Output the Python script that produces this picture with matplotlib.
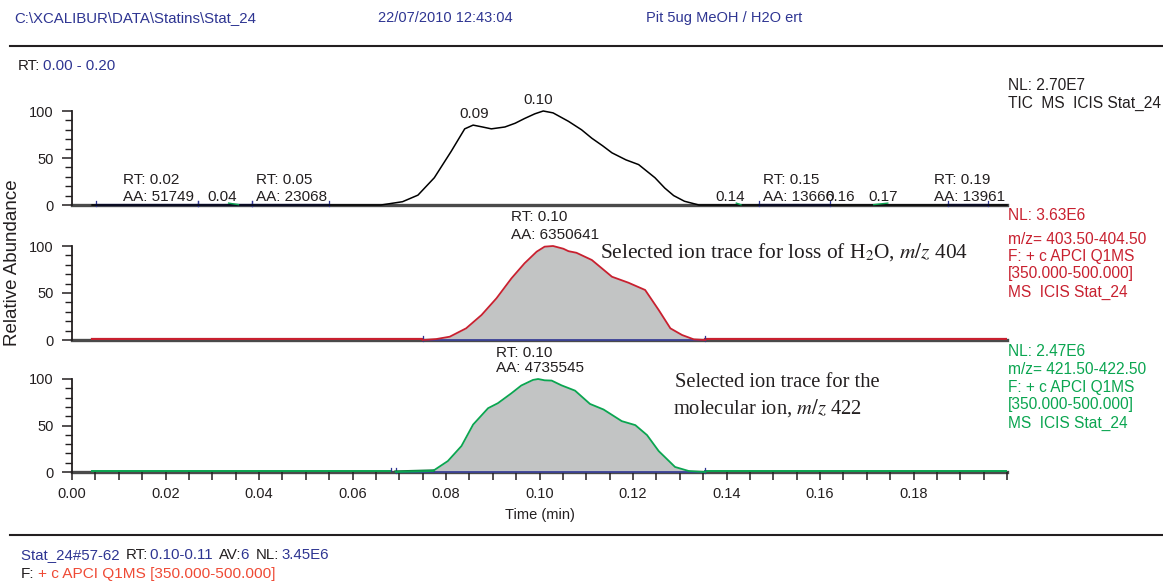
import matplotlib
matplotlib.use("Agg")
import matplotlib.pyplot as plt
from matplotlib.ticker import MultipleLocator

W, H = 1163, 581
SANS = "Liberation Sans"
SERIF = "Liberation Serif"
plt.rcParams["font.family"] = SANS
plt.rcParams["mathtext.fontset"] = "stix"

BLUE = "#2e3592"
DARK = "#231f20"
RED = "#c8202f"
GREEN = "#0aa550"
ORANGE = "#ef4a35"
FILL = "#c2c4c4"
AXIS = "#4a4a4a"

# ---- chromatogram data (time in min, relative abundance in %) ----
tic_time = [0.0043, 0.0661, 0.0707, 0.0740, 0.0775, 0.0811, 0.0840, 0.0858, 0.0878,
            0.0897, 0.0926, 0.0948, 0.0968, 0.0990, 0.1008, 0.1029, 0.1062, 0.1090,
            0.1112, 0.1135, 0.1155, 0.1185, 0.1212, 0.1247, 0.1268, 0.1287, 0.1310,
            0.1341, 0.2000]
tic_rel = [0, 0, 3.5, 10.5, 29, 57, 81, 85, 83,
           81, 83, 87, 92, 97, 100, 98, 89, 80,
           71, 63, 55.5, 48, 43, 29, 18, 10, 4,
           0, 0]

sim404_time = [0.0750, 0.0779, 0.0808, 0.0843, 0.0876, 0.0908, 0.0940, 0.0968, 0.0994,
               0.1011, 0.1029, 0.1051, 0.1062, 0.1079, 0.1112, 0.1155, 0.1190, 0.1226,
               0.1255, 0.1280, 0.1305, 0.1330, 0.1355]
sim404_rel = [0, 1, 3.5, 12.4, 26.6, 44.4, 65.6, 81.6, 94,
              99.3, 100, 97.1, 94.5, 92.8, 85.1, 67.3, 61, 53.2,
              31.9, 12.4, 5.3, 0.7, 0]

sim422_time = [0.0693, 0.0772, 0.0804, 0.0833, 0.0858, 0.0890, 0.0911, 0.0940, 0.0961,
               0.0986, 0.0997, 0.1011, 0.1026, 0.1047, 0.1076, 0.1108, 0.1137, 0.1176,
               0.1205, 0.1230, 0.1255, 0.1290, 0.1319, 0.1355]
sim422_rel = [0, 1.1, 11.8, 27.9, 51, 68.6, 74, 84.7, 93,
              99, 100, 98.6, 98.3, 93.2, 87.5, 73.2, 67.2, 54.7,
              50.4, 39.7, 22.5, 5.4, 1.1, 0]

scan_start, scan_end = 0.0043, 0.2000

# integration baselines (start, end) in minutes
tic_baselines = [(0.0052, 0.0270), (0.0270, 0.0384), (0.0384, 0.0549),
                 (0.1470, 0.1622), (0.1873, 0.1959)]
sim404_baseline = (0.0750, 0.1355)
sim422_baseline = (0.0693, 0.1355)

# small detected peaks on the TIC baseline
tic_minor_peaks = [(0.0335, 0.0356, 2.0, 0.4), (0.1421, 0.1431, 2.0, 0.2),
                   (0.1715, 0.1745, 0.4, 2.0)]

# peak annotations: (time, rel, text, horizontal alignment)
tic_labels = [(0.0861, 96.8, "0.09", "center"), (0.0998, 111.7, "0.10", "center"),
              (0.0109, 26.6, "RT: 0.02", "left"), (0.0109, 8.5, "AA: 51749", "left"),
              (0.0290, 8.5, "0.04", "left"),
              (0.0393, 26.6, "RT: 0.05", "left"), (0.0393, 8.5, "AA: 23068", "left"),
              (0.1376, 8.5, "0.14", "left"),
              (0.1479, 26.6, "RT: 0.15", "left"), (0.1479, 8.5, "AA: 13666", "left"),
              (0.1612, 8.5, "0.16", "left"), (0.1704, 8.5, "0.17", "left"),
              (0.1843, 26.6, "RT: 0.19", "left"), (0.1843, 8.5, "AA: 13961", "left")]
sim404_labels = [(0.0940, 130.9, "RT: 0.10"), (0.0940, 111.7, "AA: 6350641")]
sim422_labels = [(0.0908, 128.0, "RT: 0.10"), (0.0908, 111.8, "AA: 4735545")]

tic_info = ["NL: 2.70E7", "TIC  MS  ICIS Stat_24"]
sim404_info = ["NL: 3.63E6", "m/z= 403.50-404.50", "F: + c APCI Q1MS",
               "[350.000-500.000]", "MS  ICIS Stat_24"]
sim422_info = ["NL: 2.47E6", "m/z= 421.50-422.50", "F: + c APCI Q1MS",
               "[350.000-500.000]", "MS  ICIS Stat_24"]

x_ticks = [0.00, 0.02, 0.04, 0.06, 0.08, 0.10, 0.12, 0.14, 0.16, 0.18]
y_ticks = [0, 50, 100]

fig = plt.figure(figsize=(W / 100, H / 100), dpi=100)


def fx(px):
    return px / W


def fy(py):
    return 1 - py / H


def panel(top_px, bottom_px):
    left, right = 72, 1007
    ax = fig.add_axes([fx(left), fy(bottom_px), (right - left) / W, (bottom_px - top_px) / H])
    ax.set_xlim(0, 0.2)
    ax.set_ylim(0, 100)
    ax.patch.set_alpha(0)
    for s in ("top", "right"):
        ax.spines[s].set_visible(False)
    ax.spines["left"].set_color(DARK)
    ax.spines["left"].set_linewidth(1.3)
    ax.spines["bottom"].set_color(AXIS)
    ax.spines["bottom"].set_linewidth(2.4)
    ax.spines["bottom"].set_zorder(1)
    ax.set_yticks(y_ticks)
    ax.yaxis.set_minor_locator(MultipleLocator(10))
    ax.tick_params(axis="y", which="major", length=7, width=1.1, color=DARK,
                   labelsize=10.5, labelcolor=DARK, pad=6)
    ax.tick_params(axis="y", which="minor", length=5, width=1.0, color=DARK)
    ax.xaxis.set_minor_locator(MultipleLocator(0.005))
    ax.set_xticks(x_ticks)
    ax.xaxis.set_major_formatter(plt.FuncFormatter(lambda v, p: f"{v:.2f}"))
    ax.tick_params(axis="x", which="both", length=6, width=1.1, color=DARK,
                   labelsize=10.5, labelcolor=DARK, pad=5)
    return ax


def baseline_marks(ax, t0, t1, lw=1.2):
    ax.plot([t0, t1], [0.3, 0.3], color=BLUE, lw=lw, zorder=3, clip_on=False)
    for t in (t0, t1):
        ax.plot([t, t], [-1.5, 4.5], color=BLUE, lw=0.9, zorder=3, clip_on=False)


# ---- TIC ----
ax1 = panel(111, 205)
ax1.tick_params(axis="x", which="both", bottom=False, labelbottom=False)
ax1.plot(tic_time, tic_rel, color="black", lw=1.1, zorder=4, clip_on=False)
for t0, t1 in tic_baselines:
    baseline_marks(ax1, t0, t1, lw=1.6)
for t0, t1, y0, y1 in tic_minor_peaks:
    ax1.plot([t0, t1], [y0, y1], color=GREEN, lw=1.0, zorder=4, clip_on=False)
for t, r, s, ha in tic_labels:
    ax1.text(t, r, s, ha=ha, va="center", fontsize=11, color=DARK, zorder=5)

# ---- m/z 404 ----
ax2 = panel(246, 340)
ax2.tick_params(axis="x", which="both", bottom=False, labelbottom=False)
ax2.plot([scan_start, sim404_time[0]], [0.6, 0.6], color=RED, lw=1.6, zorder=3)
ax2.plot([sim404_time[-1], scan_end], [0.6, 0.6], color=RED, lw=1.6, zorder=3)
ax2.fill_between(sim404_time, sim404_rel, 0, color=FILL, lw=0, zorder=2)
baseline_marks(ax2, *sim404_baseline)
ax2.plot(sim404_time, sim404_rel, color=RED, lw=1.3, zorder=4, clip_on=False)
for t, r, s in sim404_labels:
    ax2.text(t, r, s, ha="left", va="center", fontsize=11, color=DARK)
ax2.text(0.1129, 94, r"Selected ion trace for loss of H$_2$O, $m/z$ 404",
         family=SERIF, fontsize=15.4, color=DARK, ha="left", va="center")

# ---- m/z 422 ----
ax3 = panel(379, 472)
ax3.plot([scan_start, 0.0682], [0.6, 0.6], color=GREEN, lw=1.4, zorder=3)
ax3.plot([0.0682, 0.0682], [-1.5, 4.5], color=BLUE, lw=0.9, zorder=3)
ax3.plot([sim422_time[-1], scan_end], [0.6, 0.6], color=GREEN, lw=1.4, zorder=3)
ax3.fill_between(sim422_time, sim422_rel, 0, color=FILL, lw=0, zorder=2)
baseline_marks(ax3, *sim422_baseline)
ax3.plot(sim422_time[:2], sim422_rel[:2], color="#0a7a3a", lw=2.4, zorder=4)
ax3.plot(sim422_time, sim422_rel, color=GREEN, lw=1.3, zorder=4, clip_on=False)
for t, r, s in sim422_labels:
    ax3.text(t, r, s, ha="left", va="center", fontsize=11, color=DARK)
ax3.text(0.1290, 96, "Selected ion trace for the", family=SERIF, fontsize=14.8,
         color=DARK, ha="left", va="center")
ax3.text(0.1286, 69, r"molecular ion, $m/z$ 422", family=SERIF, fontsize=14.8,
         color=DARK, ha="left", va="center")
ax3.set_xlabel("Time (min)", fontsize=10.5, color=DARK, labelpad=5)

fig.text(fx(13), fy(263), "Relative Abundance", rotation=90, fontsize=13.5,
         color=DARK, ha="center", va="center")

# ---- trace information on the right ----
INFO_SIZE = 11.2
for i, s in enumerate(tic_info):
    fig.text(fx(1008), fy(86 + 17.5 * i), s, fontsize=INFO_SIZE, color=DARK, va="center")
red_rows = [216, 239, 256.5, 274, 292]
for y, s in zip(red_rows, sim404_info):
    fig.text(fx(1008), fy(y), s, fontsize=INFO_SIZE, color=RED, va="center")
green_rows = [351, 370, 387.5, 405, 423]
for y, s in zip(green_rows, sim422_info):
    fig.text(fx(1008), fy(y), s, fontsize=INFO_SIZE, color=GREEN, va="center")

# header
HEAD_SIZE = 10.8
fig.text(fx(14), fy(18), r"C:\XCALIBUR\DATA\Statins\Stat_24", fontsize=HEAD_SIZE, color=BLUE, va="center")
fig.text(fx(378), fy(18), "22/07/2010 12:43:04", fontsize=10.5, color=BLUE, va="center")
fig.text(fx(646), fy(18), "Pit 5ug MeOH / H2O ert", fontsize=10.5, color=BLUE, va="center")
fig.add_artist(plt.Line2D([fx(10), 1], [fy(46), fy(46)], color=DARK, lw=1.5))

fig.canvas.draw()


def chain(x_px, y_px, parts, size=10.8):
    # consecutive text runs of different colours on one line
    r = fig.canvas.get_renderer()
    x = x_px
    for s, c, gap in parts:
        t = fig.text(fx(x), fy(y_px), s, color=c, fontsize=size, va="center")
        bb = t.get_window_extent(renderer=r)
        x += bb.width + gap


chain(18, 66, [("RT:", DARK, 3), ("0.00 - 0.20", BLUE, 0)])

# footer
fig.add_artist(plt.Line2D([fx(10), 1], [fy(535), fy(535)], color=DARK, lw=1.5))
chain(21, 555, [("Stat_24#57-62 ", BLUE, 2), ("RT:", DARK, 2), ("0.10-0.11 ", BLUE, 2),
                ("AV:", DARK, 0), ("6 ", BLUE, 2), ("NL:", DARK, 2), ("3.45E6", BLUE, 0)])
chain(21, 574, [("F:", DARK, 3), ("+ c APCI Q1MS [350.000-500.000]", ORANGE, 0)], size=11.1)

fig.savefig("out.png", dpi=100)
